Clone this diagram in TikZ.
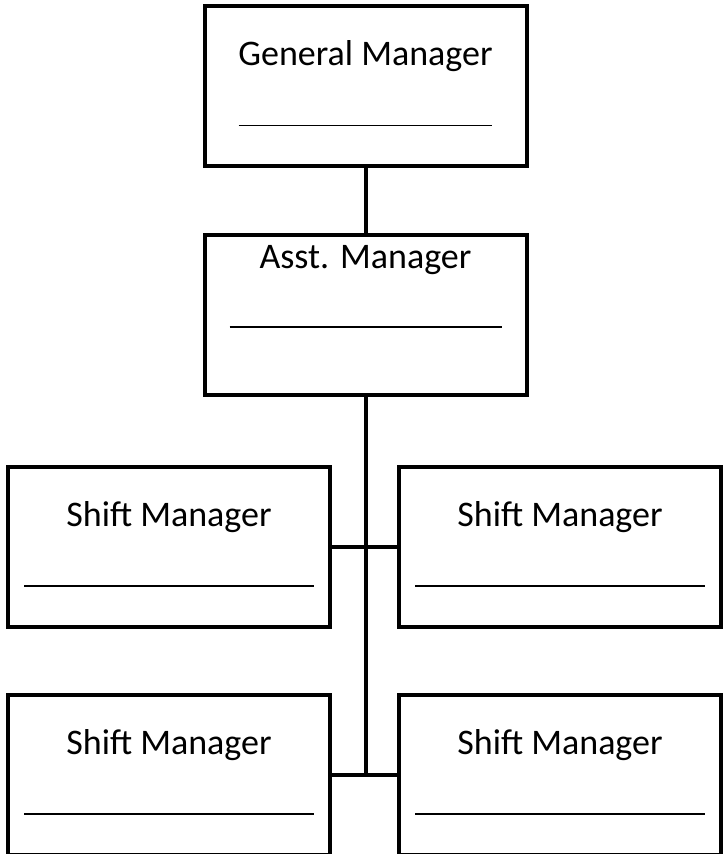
\documentclass[tikz,border=0pt]{standalone}
\usepackage{fontspec}
\setmainfont{Carlito}
\usetikzlibrary{calc,positioning}

\begin{document}
\begin{tikzpicture}[x=1pt,y=-1pt,
		box/.style={draw,line width=4pt,minimum width=322pt,minimum height=160pt,inner sep=0pt},
		title/.style={anchor=base,inner sep=0pt,font=\fontsize{36}{40}\selectfont},
		link/.style={line width=4pt},
		blank/.style={line width=1.3pt}]
				\useasboundingbox (0,0) rectangle (723,854);
				\clip (0,0) rectangle (723,854);
				
				\node[box] (gm) at (365.5,85.5) {};
				\node[title] (gmtext) at ($(gm.north)+(0,62)$) {General Manager};
				\draw[blank] ($(gm.north west)+(36,122)$) -- ($(gm.north east)+(-37,122)$);
				
				\node[box] (asst) at (365.5,315) {};
				\node[title] (assttext) at ($(asst.north)+(0,35)$) {Asst. Manager};
				\draw[blank] ($(asst.north west)+(27,94)$) -- ($(asst.north east)+(-27,94)$);
				
				\foreach \r/\y in {1/547,2/775} {
				\node[box] (sl\r) at (169,\y) {};
				\node[box] (sr\r) at (560,\y) {};
				\node[title] (sltext\r) at ($(sl\r.north)+(0,61)$) {Shift Manager};
				\node[title] (srtext\r) at ($(sr\r.north)+(0,61)$) {Shift Manager};
				\draw[blank] ($(sl\r.north west)+(18,121)$) -- ($(sl\r.north east)+(-18,121)$);
				\draw[blank] ($(sr\r.north west)+(18,121)$) -- ($(sr\r.north east)+(-18,121)$);
				\draw[link] (sl\r.east) -- (sr\r.west);
				}
				
				\draw[link] (gm.south) -- (asst.north);
				\draw[link] (asst.south) -- (asst.south |- sl2.east);
			\end{tikzpicture}
\end{document}
